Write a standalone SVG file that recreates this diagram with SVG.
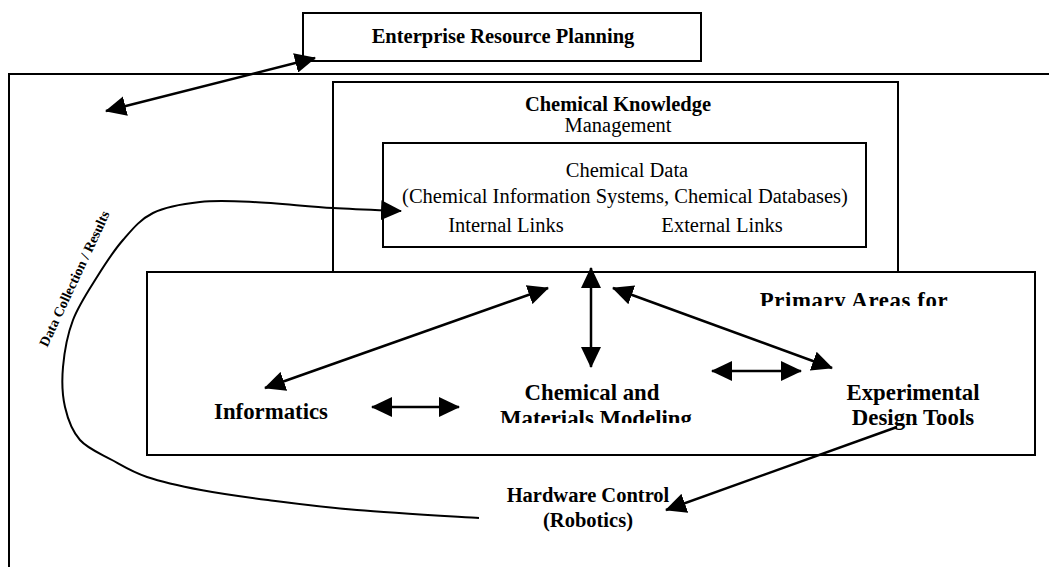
<svg xmlns="http://www.w3.org/2000/svg" width="1049" height="567" viewBox="0 0 1049 567">
<style>
.box{fill:none;stroke:#000;stroke-width:2}
.t{font-family:"Liberation Serif","Times New Roman",serif;fill:#000;text-anchor:middle}
.b{font-weight:bold}
.s20{font-size:20.5px}
.s23{font-size:22.8px}
.ln{fill:none;stroke:#000;stroke-width:2.5}
.cv{fill:none;stroke:#000;stroke-width:2}
.end{marker-end:url(#ah)}
.both{marker-start:url(#ah);marker-end:url(#ah)}
</style>
<defs>
<marker id="ah" viewBox="0 0 21 20" refX="20" refY="10" markerWidth="21" markerHeight="20" markerUnits="userSpaceOnUse" orient="auto-start-reverse"><path d="M0,0 L21,10 L0,20 z" fill="#000"/></marker>
<clipPath id="clipPrim"><rect x="700" y="280" width="320" height="26"/></clipPath>
<clipPath id="clipMat"><rect x="480" y="400" width="240" height="23"/></clipPath>
</defs>
<rect width="1049" height="567" fill="#fff"/>

<g id="outer-boundary">
<path class="box" d="M1049,74 H9 V567"/>
</g>

<g id="node-erp">
<rect class="box" x="303" y="13" width="398" height="48"/>
<text class="t b s20" x="503" y="43">Enterprise Resource Planning</text>
</g>

<g id="node-ckm">
<rect class="box" x="333" y="82" width="565" height="190"/>
<text class="t b s20" x="618" y="111">Chemical Knowledge</text>
<text class="t s20" x="618" y="132">Management</text>
</g>

<g id="node-chemical-data">
<rect class="box" x="383" y="143" width="483" height="104"/>
<text class="t s20" x="627" y="177">Chemical Data</text>
<text class="t s20" x="625" y="203">(Chemical Information Systems, Chemical Databases)</text>
<text class="t s20" x="506" y="232">Internal Links</text>
<text class="t s20" x="722" y="232">External Links</text>
</g>

<g id="node-primary-areas">
<rect class="box" x="147" y="272" width="888" height="183"/>
<text class="t b s23" x="854" y="308" clip-path="url(#clipPrim)" letter-spacing="0.6">Primary Areas for</text>
</g>

<g id="node-informatics">
<text class="t b s23" x="271" y="419">Informatics</text>
</g>

<g id="node-modeling">
<text class="t b s23" x="592" y="400">Chemical and</text>
<text class="t b s23" x="596" y="426" clip-path="url(#clipMat)">Materials Modeling</text>
</g>

<g id="node-experimental">
<text class="t b s23" x="913" y="400">Experimental</text>
<text class="t b s23" x="913" y="425">Design Tools</text>
</g>

<g id="node-hardware">
<text class="t b s20" x="588" y="502">Hardware Control</text>
<text class="t b s20" x="588" y="527">(Robotics)</text>
</g>

<g id="connectors">
<path class="ln both" d="M106,111 L315,58"/>
<path class="cv end" d="M479,518 C458.7,516.7 392.2,513 357,510 C321.8,507 294,503.3 268,500 C242,496.7 221.2,493.8 201,490 C180.8,486.2 161.8,482 147,477 C132.2,472 123.2,466.2 112,460 C100.8,453.8 87.8,448.8 80,440 C72.2,431.2 67.8,419.2 65,407 C62.2,394.8 61.7,381.5 63,367 C64.3,352.5 67.3,335 73,320 C78.7,305 88.7,290.3 97,277 C105.3,263.7 113.7,250.7 123,240 C132.3,229.3 140.2,219.3 153,213 C165.8,206.7 183.3,203.8 200,202 C216.7,200.2 230.8,201 253,202 C275.2,203 308.3,206.5 333,208 C357.7,209.5 389.7,210.5 401,211"/>
<text class="t b" font-size="14" transform="translate(75,279) rotate(-65)" y="4" textLength="148" lengthAdjust="spacingAndGlyphs">Data Collection / Results</text>
<path class="ln both" d="M265,388 L548,288"/>
<path class="ln both" d="M591,268 L591,367"/>
<path class="ln both" d="M613,288 L832,368"/>
<path class="ln both" d="M372,407 L459,407"/>
<path class="ln both" d="M712,371 L801,371"/>
<path class="ln end" d="M897,427 L666,510"/>
</g>
</svg>
